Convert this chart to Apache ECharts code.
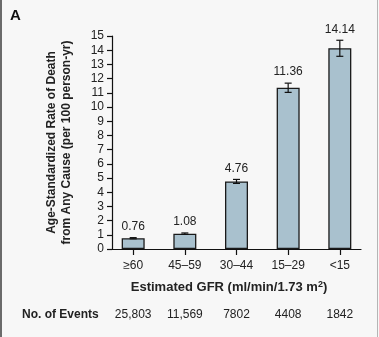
<!DOCTYPE html>
<html>
<head>
<meta charset="utf-8">
<script src="https://cdn.jsdelivr.net/npm/echarts@6/dist/echarts.min.js"></script>
<style>
html,body{margin:0;padding:0;background:#f7f7f7;}
#chart{width:379px;height:337px;}
</style>
</head>
<body>
<div id="chart"></div>
<script>
const categories = ['\u226560', '45\u201359', '30\u201344', '15\u201329', '<15'];
const deathRates = [0.76, 1.08, 4.76, 11.36, 14.14];
const ciLow = [0.72, 1.03, 4.62, 11.03, 13.57];
const ciHigh = [0.80, 1.13, 4.90, 11.68, 14.70];
const numEvents = ['25,803', '11,569', '7802', '4408', '1842'];
const yTicks = [0, 15, 1];

const FONT = 'Liberation Sans, Arial, sans-serif';
const chart = echarts.init(document.getElementById('chart'), null, {renderer: 'canvas'});
const idx = categories.map((c, i) => i);

const option = {
  backgroundColor: '#f7f7f7',
  animation: false,
  grid: {left: 112, right: 18, top: 36, bottom: 88, containLabel: false},
  xAxis: [{
    type: 'value', min: -0.41, max: 4.41,
    position: 'bottom',
    axisLine: {show: true, onZero: false, lineStyle: {color: '#111', width: 1.2}},
    axisTick: {show: true, customValues: idx, length: 6, lineStyle: {color: '#111', width: 1.2}},
    axisLabel: {customValues: idx, formatter: v => categories[Math.round(v)], margin: 11,
      fontFamily: FONT, fontSize: 12, color: '#222'},
    splitLine: {show: false},
    name: 'Estimated GFR (ml/min/1.73 m{sup|2})',
    nameLocation: 'middle', nameGap: 31,
    nameTextStyle: {fontFamily: FONT, fontSize: 13, fontWeight: 'bold', color: '#222', padding: [0, 15, 0, 0],
      rich: {sup: {fontFamily: FONT, fontSize: 9, fontWeight: 'bold', color: '#222', verticalAlign: 'top', padding: [0, 0, 6, 0]}}}
  }, {
    type: 'value', min: -0.41, max: 4.41,
    position: 'bottom', offset: 50,
    axisLine: {show: false, onZero: false}, axisTick: {show: false},
    axisLabel: {customValues: idx, formatter: v => numEvents[Math.round(v)], margin: 10,
      fontFamily: FONT, fontSize: 12, color: '#222'},
    splitLine: {show: false}
  }],
  yAxis: {
    type: 'value', min: yTicks[0], max: yTicks[1], interval: yTicks[2],
    position: 'left',
    axisLine: {show: true, onZero: false, lineStyle: {color: '#111', width: 1.2}},
    axisTick: {show: true, length: 5, lineStyle: {color: '#111', width: 1.2}},
    axisLabel: {margin: 8, fontFamily: FONT, fontSize: 12, color: '#222'},
    splitLine: {show: false},
    name: 'Age-Standardized Rate of Death\nfrom Any Cause (per 100 person-yr)',
    nameLocation: 'middle', nameGap: 38, nameRotate: 90,
    nameTextStyle: {fontFamily: FONT, fontSize: 12, fontWeight: 'bold', color: '#222', lineHeight: 15}
  },
  series: [{
    type: 'bar',
    xAxisIndex: 0,
    data: deathRates.map((v, i) => [i, v]),
    barWidth: 23,
    itemStyle: {color: '#a9c1ce', borderColor: '#1a1a1a', borderWidth: 1.3},
    z: 2
  }, {
    type: 'custom',
    xAxisIndex: 0,
    data: deathRates.map((v, i) => [i, ciLow[i], ciHigh[i], v]),
    z: 5,
    renderItem: function (params, api) {
      const x = api.value(0), lo = api.value(1), hi = api.value(2), val = api.value(3);
      const pLo = api.coord([x, lo]), pHi = api.coord([x, hi]);
      const cw = 3.5;
      const st = {stroke: '#111', lineWidth: 1.2};
      return {type: 'group', children: [
        {type: 'line', shape: {x1: pHi[0], y1: pHi[1], x2: pLo[0], y2: pLo[1]}, style: st},
        {type: 'line', shape: {x1: pHi[0] - cw, y1: pHi[1], x2: pHi[0] + cw, y2: pHi[1]}, style: st},
        {type: 'line', shape: {x1: pLo[0] - cw, y1: pLo[1], x2: pLo[0] + cw, y2: pLo[1]}, style: st},
        {type: 'text', x: pHi[0], y: pHi[1] - 11, style: {text: val.toFixed(2), align: 'center', verticalAlign: 'middle',
          fontFamily: FONT, fontSize: 12, fill: '#222'}}
      ]};
    }
  }],
  graphic: [
    {type: 'rect', left: 0, top: 0, shape: {width: 2, height: 337}, style: {fill: '#6b6b6b'}, silent: true},
    {type: 'rect', left: 377, top: 0, shape: {width: 1, height: 337}, style: {fill: '#b5b5b5'}, silent: true},
    {type: 'text', left: 10, top: 8, style: {text: 'A', fontFamily: FONT, fontSize: 15, fontWeight: 'bold', fill: '#111'}},
    {type: 'text', left: 22, top: 309, style: {text: 'No. of Events', fontFamily: FONT, fontSize: 12, fontWeight: 'bold', fill: '#222'}}
  ]
};
chart.setOption(option);
</script>
</body>
</html>
